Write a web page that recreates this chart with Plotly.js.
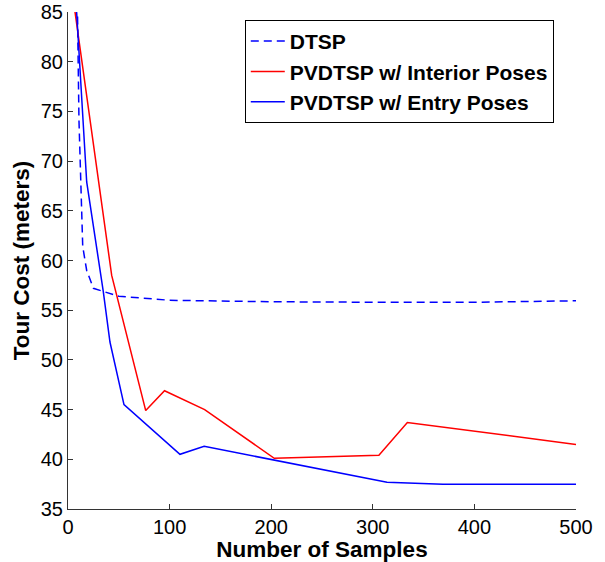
<!DOCTYPE html>
<html>
<head>
<meta charset="utf-8">
<script src="https://cdn.plot.ly/plotly-3.0.1.min.js"></script>
<style>html,body{margin:0;padding:0;background:#fff;}#chart{width:605px;height:562px;}</style>
</head>
<body>
<div id="chart"></div>
<script>
// DTSP (dashed)
const dtspX = [8, 10.8, 14.5, 18.4, 25, 35, 50, 100, 200, 300, 400, 500];
const dtspY = [95, 74.1, 61.4, 59.0, 57.2, 56.9, 56.4, 56.0, 55.85, 55.8, 55.8, 55.95];
// PVDTSP w/ Interior Poses (red)
const interiorX = [5, 43, 76.5, 95, 134.5, 203, 306, 334, 500];
const interiorY = [86.4, 58.5, 44.9, 46.9, 45.0, 40.1, 40.4, 43.7, 41.5];
// PVDTSP w/ Entry Poses (blue)
const entryX = [5, 18.4, 34.7, 41.3, 55.1, 110.2, 134, 314, 369, 500];
const entryY = [91, 67.9, 56.9, 51.8, 45.5, 40.5, 41.3, 37.7, 37.5, 37.5];

const xTicks = [0, 100, 200, 300, 400, 500];
const yTicks = [35, 40, 45, 50, 55, 60, 65, 70, 75, 80, 85];

const traces = [
  {x: dtspX, y: dtspY, mode: 'lines', name: 'DTSP',
   line: {color: '#0000ff', width: 1.5, dash: '8px,5px'}},
  {x: interiorX, y: interiorY, mode: 'lines', name: 'PVDTSP w/ Interior Poses',
   line: {color: '#ff0000', width: 1.5}},
  {x: entryX, y: entryY, mode: 'lines', name: 'PVDTSP w/ Entry Poses',
   line: {color: '#0000ff', width: 1.5}}
];

const font = 'Liberation Sans, Arial, Helvetica, sans-serif';
const layout = {
  width: 605, height: 562,
  margin: {l: 68, r: 29, t: 12, b: 53},
  paper_bgcolor: '#fff', plot_bgcolor: '#fff',
  showlegend: true,
  legend: {x: 0.348, y: 0.984, xanchor: 'left', yanchor: 'top',
    bgcolor: '#fff', bordercolor: '#000', borderwidth: 1,
    itemwidth: 34,
    font: {family: font, size: 21, color: '#000', weight: 'bold'},
    tracegroupgap: 0},
  xaxis: {range: [0, 500], tickvals: xTicks, ticks: 'inside', ticklen: 5,
    tickcolor: '#333', showline: true, linecolor: '#333', linewidth: 1,
    showgrid: false, zeroline: false, mirror: false,
    tickfont: {family: font, size: 20, color: '#000'},
    title: {text: 'Number of Samples', standoff: 2,
      font: {family: font, size: 22.5, color: '#000', weight: 'bold'}}},
  yaxis: {range: [35, 85], tickvals: yTicks, ticks: 'inside', ticklen: 5,
    tickcolor: '#333', showline: true, linecolor: '#333', linewidth: 1,
    showgrid: false, zeroline: false, mirror: false,
    tickfont: {family: font, size: 20, color: '#000'},
    title: {text: 'Tour Cost (meters)', standoff: 4,
      font: {family: font, size: 22.5, color: '#000', weight: 'bold'}}}
};

Plotly.newPlot('chart', traces, layout, {displayModeBar: false, staticPlot: true});
</script>
</body>
</html>
